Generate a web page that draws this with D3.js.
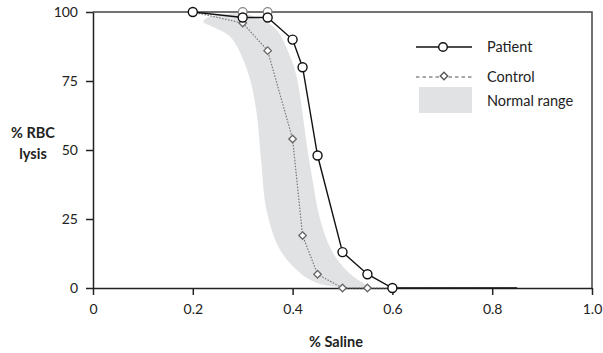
<!DOCTYPE html>
<html><head><meta charset="utf-8">
<script src="https://cdn.jsdelivr.net/npm/d3@7"></script>
<style>body{margin:0;background:#fff}svg{display:block}text{font-family:Lato,"Open Sans",sans-serif;fill:#222}</style>
</head><body>
<svg id="c" width="603" height="353"></svg>
<script>
const xTicks = [0, 0.2, 0.4, 0.6, 0.8, 1.0];
const xTickLabels = ["0", "0.2", "0.4", "0.6", "0.8", "1.0"];
const yTicks = [0, 25, 50, 75, 100];
const patientX = [0.2, 0.3, 0.35, 0.4, 0.42, 0.45, 0.5, 0.55, 0.6];
const patientY = [100, 98, 98, 90, 80, 48, 13, 5, 0];
const controlX = [0.2, 0.3, 0.35, 0.4, 0.42, 0.45, 0.5, 0.55];
const controlY = [100, 96, 86, 54, 19, 5, 0, 0];
const ghostX = [0.3, 0.35];
const ghostY = [100, 100];
const tailX = 0.85;
// normal range band: right (upper) edge top->bottom, left (lower) edge bottom->top
const bandRightX = [0.26, 0.30, 0.34, 0.368, 0.398, 0.41, 0.419, 0.43, 0.44, 0.455, 0.48, 0.51, 0.535, 0.555];
const bandRightY = [99, 99.5, 97, 93.5, 82.6, 75, 64.5, 50, 39, 25, 13, 6, 2.5, 0.3];
const bandLeftX = [0.54, 0.50, 0.449, 0.415, 0.375, 0.348, 0.337, 0.327, 0.309, 0.275, 0.235, 0.221, 0.23];
const bandLeftY = [0, 0.2, 1.8, 5.4, 13.8, 28, 46, 64.5, 79, 91, 95, 96.5, 98];

const svg = d3.select("#c");
const x = d3.scaleLinear().domain([0, 1]).range([93, 592]);
const y = d3.scaleLinear().domain([0, 100]).range([288, 12]);

// band
const bandPts = bandRightX.map((v, i) => [v, bandRightY[i]]).concat(bandLeftX.map((v, i) => [v, bandLeftY[i]]));
svg.append("path")
  .attr("d", d3.line().x(d => x(d[0])).y(d => y(d[1])).curve(d3.curveCatmullRomClosed)(bandPts))
  .attr("fill", "#e1e2e4");

// frame top/right
svg.append("path")
  .attr("d", `M${x(0)},${y(100)}H${x(1)}V${y(0)}`)
  .attr("fill", "none").attr("stroke", "#444").attr("stroke-width", 1.5);

// axes
const gx = svg.append("g").attr("transform", `translate(0,${y(0)})`)
  .call(d3.axisBottom(x).tickValues(xTicks).tickFormat((d, i) => xTickLabels[i]).tickSize(7).tickPadding(9).tickSizeOuter(0));
const gy = svg.append("g").attr("transform", `translate(${x(0)},0)`)
  .call(d3.axisLeft(y).tickValues(yTicks).tickSize(7).tickPadding(8).tickSizeOuter(0));
[gx, gy].forEach(g => {
  g.select(".domain").attr("stroke", "#222").attr("stroke-width", 1.5);
  g.selectAll(".tick line").attr("stroke", "#222").attr("stroke-width", 1.5);
  g.selectAll(".tick text").attr("font-size", 14).attr("fill", "#222").attr("font-family", "Lato, 'Open Sans', sans-serif");
});

// control
const cPts = controlX.map((v, i) => [v, controlY[i]]).concat([[tailX, 0]]);
svg.append("path")
  .attr("d", d3.line().x(d => x(d[0])).y(d => y(d[1]))(cPts))
  .attr("fill", "none").attr("stroke", "#777").attr("stroke-width", 1.2).attr("stroke-dasharray", "1.5,1.5");

// ghost circles
svg.selectAll(".ghost").data(ghostX).join("circle")
  .attr("cx", d => x(d)).attr("cy", (d, i) => y(ghostY[i])).attr("r", 4.3)
  .attr("fill", "#fff").attr("stroke", "#888").attr("stroke-width", 1.3);

// patient
const pPts = patientX.map((v, i) => [v, patientY[i]]).concat([[tailX, 0]]);
svg.append("path")
  .attr("d", d3.line().x(d => x(d[0])).y(d => y(d[1]))(pPts))
  .attr("fill", "none").attr("stroke", "#111").attr("stroke-width", 1.4);

// control markers
const diamond = d3.symbol().type(d3.symbolDiamond2).size(36);
svg.selectAll(".cm").data(controlX).join("path")
  .attr("d", diamond)
  .attr("transform", (d, i) => `translate(${x(d)},${y(controlY[i])})`)
  .attr("fill", "#fff").attr("stroke", "#666").attr("stroke-width", 1.3);

// patient markers
svg.selectAll(".pm").data(patientX).join("circle")
  .attr("cx", d => x(d)).attr("cy", (d, i) => y(patientY[i])).attr("r", 4.5)
  .attr("fill", "#fff").attr("stroke", "#111").attr("stroke-width", 1.4);

// legend
const lg = svg.append("g");
lg.append("line").attr("x1", 416).attr("x2", 472).attr("y1", 47).attr("y2", 47).attr("stroke", "#111").attr("stroke-width", 1.4);
lg.append("circle").attr("cx", 443).attr("cy", 47).attr("r", 4.3).attr("fill", "#fff").attr("stroke", "#111").attr("stroke-width", 1.4);
lg.append("line").attr("x1", 416).attr("x2", 472).attr("y1", 77).attr("y2", 77).attr("stroke", "#555").attr("stroke-width", 1.1).attr("stroke-dasharray", "3.5,3");
lg.append("path").attr("d", diamond).attr("transform", "translate(444,76)").attr("fill", "#fff").attr("stroke", "#555").attr("stroke-width", 1.3);
lg.append("rect").attr("x", 419).attr("y", 87).attr("width", 53).attr("height", 26).attr("fill", "#e1e2e4");
const legendLabels = ["Patient", "Control", "Normal range"];
[47, 77, 101].forEach((yy, i) => lg.append("text").attr("x", 487).attr("y", yy).attr("dy", "0.35em").attr("font-size", 14.5).text(legendLabels[i]));

// axis titles
svg.append("text").attr("x", 33).attr("y", 138).attr("text-anchor", "middle").attr("font-size", 14.5).attr("font-weight", "bold").text("% RBC");
svg.append("text").attr("x", 33).attr("y", 159).attr("text-anchor", "middle").attr("font-size", 14.5).attr("font-weight", "bold").text("lysis");
svg.append("text").attr("x", 336).attr("y", 347).attr("text-anchor", "middle").attr("font-size", 14.5).attr("font-weight", "bold").text("% Saline");
</script>
</body></html>
